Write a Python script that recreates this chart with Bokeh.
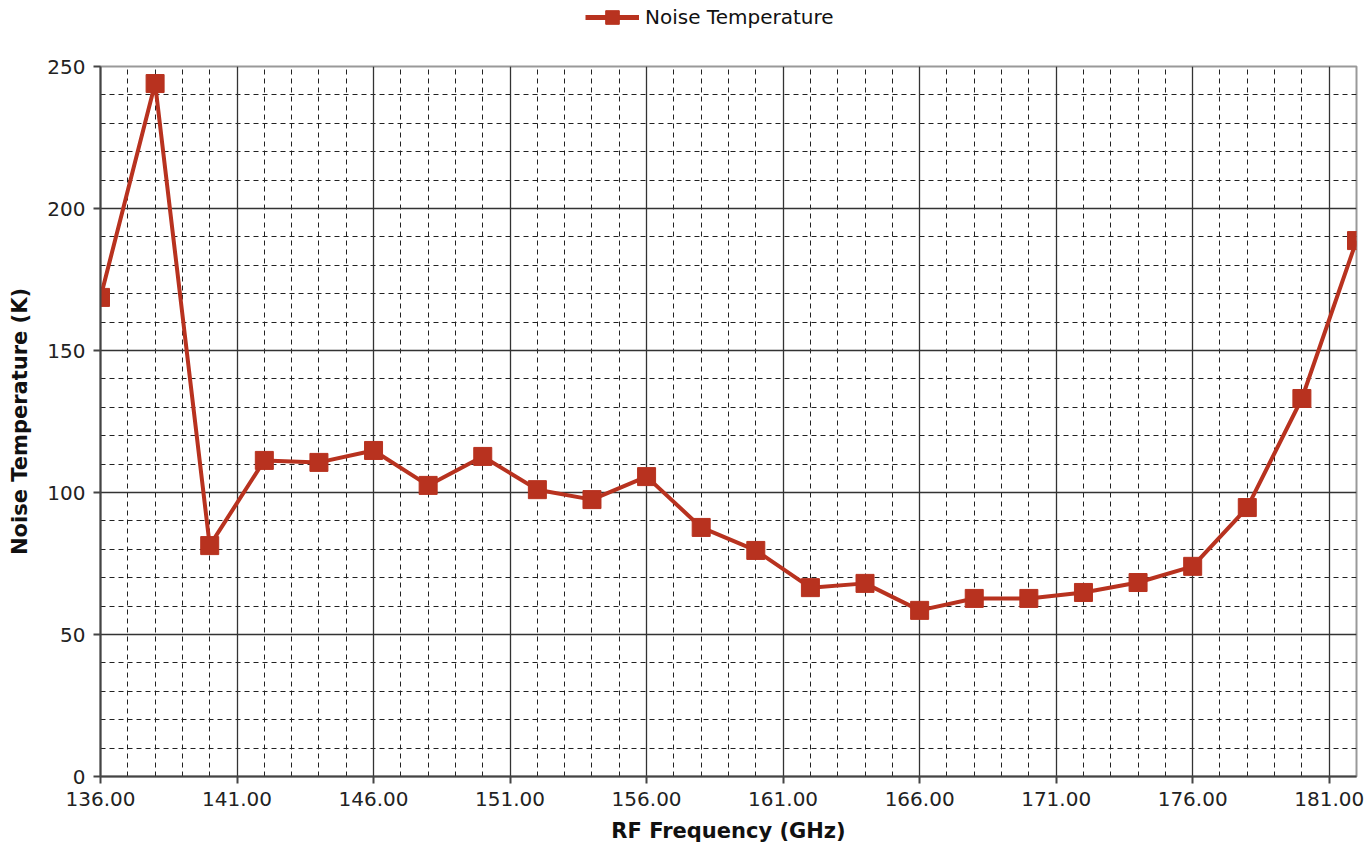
from bokeh.plotting import figure
from bokeh.layouts import column
from bokeh.models import (Range1d, FixedTicker, Legend, LegendItem, ColumnDataSource,
                          NumeralTickFormatter, Grid)
from bokeh.embed import file_html
from bokeh.resources import INLINE

freq_ghz = [136, 138, 140, 142, 144, 146, 148, 150, 152, 154, 156, 158,
            160, 162, 164, 166, 168, 170, 172, 174, 176, 178, 180, 182]
noise_temp_k = [168.7, 244.0, 81.3, 111.3, 110.6, 114.8, 102.5, 112.7, 101.0, 97.5,
                105.6, 87.7, 79.6, 66.5, 68.0, 58.5, 62.7, 62.7, 64.8, 68.3,
                74.0, 94.7, 133.1, 188.7]
x_ticks = [136, 141, 146, 151, 156, 161, 166, 171, 176, 181]
y_ticks = [0, 50, 100, 150, 200, 250]
x_minor = [v for v in range(136, 183) if v not in x_ticks]
y_minor = [v for v in range(0, 251, 10) if v not in y_ticks]
series_name = "Noise Temperature"

FONT = "DejaVu Sans"
COLOR = "#B8321F"

p = figure(width=1370, height=816, output_backend="svg", toolbar_location=None,
           x_range=Range1d(136, 182), y_range=Range1d(0, 250),
           min_border_left=100, min_border_right=14, min_border_top=26, min_border_bottom=80)
p.background_fill_color = "white"
p.border_fill_color = "white"
p.outline_line_color = "#999999"
p.outline_line_width = 2

p.xaxis.ticker = FixedTicker(ticks=x_ticks)
p.yaxis.ticker = FixedTicker(ticks=y_ticks)
p.xaxis.formatter = NumeralTickFormatter(format="0.00")
for ax in (p.xaxis, p.yaxis):
    ax.major_label_text_font = FONT
    ax.major_label_text_font_size = "20px"
    ax.major_label_text_color = "#222222"
    ax.axis_label_text_font = FONT
    ax.axis_label_text_font_size = "21px"
    ax.axis_label_text_font_style = "bold"
    ax.axis_label_text_color = "#111111"
    ax.axis_line_color = "#444444"
    ax.axis_line_width = 2
    ax.major_tick_line_color = "#444444"
    ax.major_tick_line_width = 2
    ax.major_tick_out = 7
    ax.major_tick_in = 0
    ax.minor_tick_line_color = None
p.xaxis.axis_label = "RF Frequency (GHz)"
p.yaxis.axis_label = "Noise Temperature (K)"
p.xaxis.major_label_standoff = 8
p.xaxis.axis_label_standoff = 10
p.yaxis.major_label_standoff = 8
p.yaxis.axis_label_standoff = 12

p.xgrid.visible = False
p.ygrid.visible = False
gx_minor = Grid(dimension=0, ticker=FixedTicker(ticks=x_minor), grid_line_color="#222222",
                grid_line_dash="5 4", grid_line_width=1)
gy_minor = Grid(dimension=1, ticker=FixedTicker(ticks=y_minor), grid_line_color="#222222",
                grid_line_dash="5 4", grid_line_width=1)
gx_major = Grid(dimension=0, ticker=FixedTicker(ticks=x_ticks), grid_line_color="#333333",
                grid_line_width=1.3)
gy_major = Grid(dimension=1, ticker=FixedTicker(ticks=y_ticks), grid_line_color="#333333",
                grid_line_width=1.3)
for g in (gx_minor, gy_minor, gx_major, gy_major):
    p.add_layout(g)

src = ColumnDataSource(dict(x=freq_ghz, y=noise_temp_k))
p.line("x", "y", source=src, line_color=COLOR, line_width=4)
p.scatter("x", "y", source=src, marker="square", size=18, fill_color=COLOR,
          line_color=COLOR)

# legend strip above the chart (its glyph renderers share the data but lie outside this strip's ranges)
top = figure(width=1370, height=40, output_backend="svg", toolbar_location=None,
             x_range=Range1d(0, 1), y_range=Range1d(0, 1),
             min_border_left=100, min_border_right=14, min_border_top=0, min_border_bottom=0)
top.axis.visible = False
top.grid.visible = False
top.outline_line_color = None
lg_ln = top.line("x", "y", source=src, line_color=COLOR, line_width=5)
lg_mk = top.scatter("x", "y", source=src, marker="square", size=24, fill_color=COLOR,
                    line_color=COLOR)
legend = Legend(items=[LegendItem(label=series_name, renderers=[lg_ln, lg_mk])],
                orientation="horizontal", location=(485, 6),
                label_text_font=FONT, label_text_font_size="20px", label_text_color="#111111",
                border_line_color=None, background_fill_alpha=0,
                glyph_width=54, glyph_height=34, label_height=34,
                padding=0, margin=0, label_standoff=6)
top.add_layout(legend)

open("out.html", "w").write(file_html(column(top, p), INLINE))
